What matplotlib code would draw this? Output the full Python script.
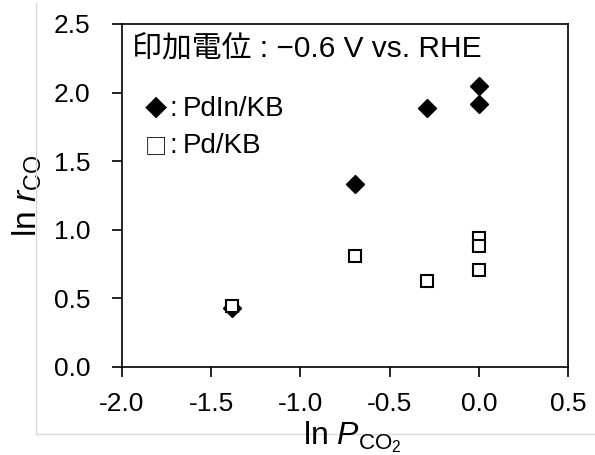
import matplotlib
matplotlib.use("Agg")
import matplotlib.pyplot as plt
from matplotlib.lines import Line2D

plt.rcParams['font.family'] = ['Liberation Sans', 'Noto Sans CJK JP', 'DejaVu Sans']
plt.rcParams['mathtext.fontset'] = 'custom'
plt.rcParams['mathtext.rm'] = 'Liberation Sans'
plt.rcParams['mathtext.it'] = 'Liberation Sans:italic'
plt.rcParams['axes.unicode_minus'] = False

# Data
pdin_x = [-1.386, -0.693, -0.288, 0.0, 0.0]
pdin_y = [0.43, 1.334, 1.885, 2.05, 1.92]
pd_x = [-1.386, -0.693, -0.288, 0.0, 0.0, 0.0]
pd_y = [0.445, 0.811, 0.625, 0.943, 0.882, 0.707]

x_ticks = [-2.0, -1.5, -1.0, -0.5, 0.0, 0.5]
y_ticks = [0.0, 0.5, 1.0, 1.5, 2.0, 2.5]

fig = plt.figure(figsize=(5.95, 4.55), dpi=100)
ax = fig.add_axes([122/595, 1-367/455, (568-122)/595, (367-24)/455])

ax.plot(pdin_x, pdin_y, linestyle='none', marker='D', markersize=9,
        markerfacecolor='black', markeredgecolor='black', zorder=3)
ax.plot(pd_x, pd_y, linestyle='none', marker='s', markersize=9,
        markerfacecolor='white', markeredgecolor='black', markeredgewidth=1.5, zorder=4)

ax.set_xlim(-2.0, 0.5)
ax.set_ylim(0.0, 2.5)
ax.set_xticks(x_ticks)
ax.set_yticks(y_ticks)
ax.set_xticklabels([f"{v:.1f}" for v in x_ticks])
ax.set_yticklabels([f"{v:.1f}" for v in y_ticks])
ax.tick_params(direction='out', length=7, width=1.2, labelsize=19, colors='black')
ax.tick_params(axis='y', pad=16)
ax.tick_params(axis='x', pad=11)
for s in ax.spines.values():
    s.set_linewidth(1.2)
    s.set_color('black')

ax.set_ylabel(r"ln $r_{\mathrm{CO}}$", fontsize=24)
ax.yaxis.set_label_coords((44 - 122) / 446, 0.5)
fig.text(352/595, 1-444/455, r"ln $P_{\mathrm{CO}_2}$", fontsize=23,
         ha='center', va='baseline')

tx = dict(transform=ax.transAxes, va='baseline', ha='left')
ax.text(0.022, 0.904, "印加電位 : −0.6 V vs. RHE", fontsize=21.5,
        family=['Liberation Sans', 'Noto Sans CJK JP'], **tx)
ax.text((145-122)/446, 0.732, "◆", fontsize=16, family=['Noto Sans CJK JP'], **tx)
ax.text((169-122)/446, 0.732, ":", fontsize=20, **tx)
ax.text((183-122)/446, 0.732, "PdIn/KB", fontsize=20, **tx)
ax.text((145-122)/446, 0.624, "□", fontsize=16, family=['Noto Sans CJK JP'], **tx)
ax.text((169-122)/446, 0.624, ":", fontsize=20, **tx)
ax.text((183-122)/446, 0.624, "Pd/KB", fontsize=20, **tx)

fig.add_artist(Line2D([36/595, 36/595], [1-3/455, 1-434/455], color='#d9d9d9', lw=1,
                      transform=fig.transFigure))
fig.add_artist(Line2D([36/595, 1.0], [1-434/455, 1-434/455], color='#d9d9d9', lw=1,
                      transform=fig.transFigure))

fig.savefig("out.png", dpi=100)
